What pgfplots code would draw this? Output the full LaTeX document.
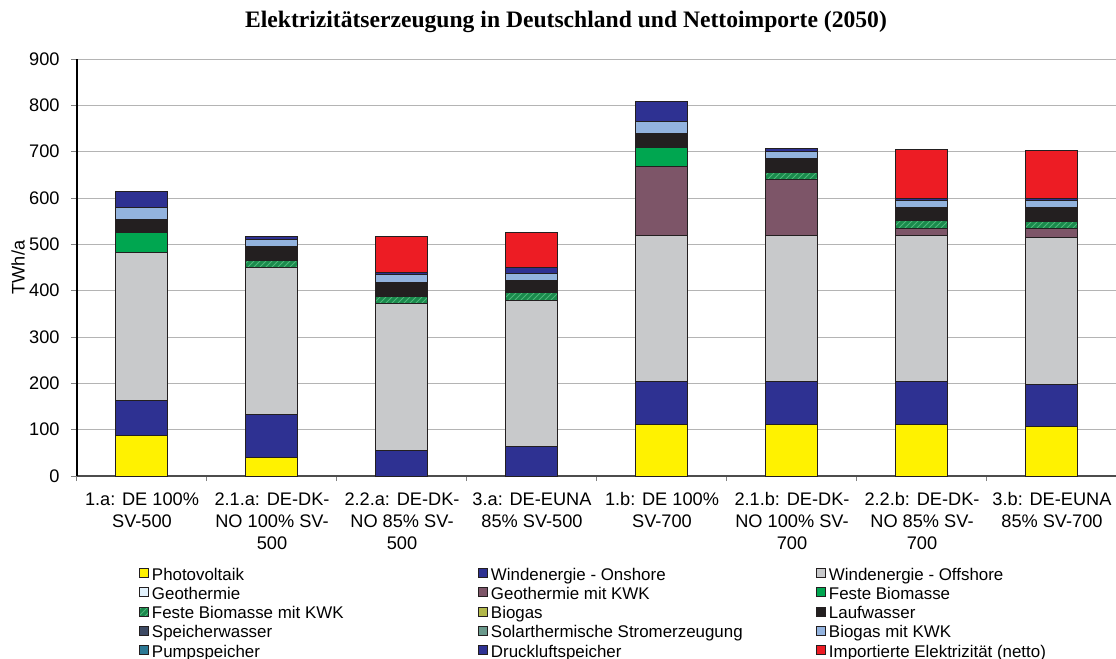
\documentclass[border=0pt]{standalone}
\usepackage{fontspec}
\setmainfont{Liberation Sans}
\newfontfamily\titlefont{Liberation Serif}
\usepackage{pgfplots}
\pgfplotsset{compat=1.18}
\usetikzlibrary{patterns}
\definecolor{cpv}{HTML}{FFF200}
\definecolor{consh}{HTML}{2E3192}
\definecolor{coffs}{HTML}{C8C9CB}
\definecolor{cgeo}{HTML}{E2F1FC}
\definecolor{cgeokwk}{HTML}{7D5568}
\definecolor{cfb}{HTML}{00A650}
\definecolor{cfbkwk}{HTML}{1A8A4C}
\definecolor{cfbhatch}{HTML}{4DB57A}
\definecolor{cbiogas}{HTML}{B2B84A}
\definecolor{clauf}{HTML}{231F20}
\definecolor{cspeich}{HTML}{3D4A64}
\definecolor{csolar}{HTML}{6A998C}
\definecolor{cbgkwk}{HTML}{93B3DE}
\definecolor{cpump}{HTML}{2C7894}
\definecolor{cdruck}{HTML}{2E3192}
\definecolor{cimport}{HTML}{ED1C24}
\definecolor{cedge}{HTML}{231F20}
\definecolor{cgrid}{HTML}{B4B4B4}

\pgfplotstableread{
x pv onsh offs geo geokwk fb fbkwk biogas lauf speich solar bgkwk pump druck import
0 87  77 318 0 0   43 0  0 29 0 0 26 0 34 0
1 41  91 317 0 0   0  16 0 30 0 0 15 0 7  0
2 0   56 317 0 0   0  15 0 30 0 0 16 0 6  78
3 0   63 316 0 0   0  17 0 26 0 0 16 0 12 76
4 112 91 317 0 147 43 0  0 30 0 0 25 0 43 0
5 112 91 317 0 119 0  15 0 31 0 0 16 0 5  0
6 112 92 316 0 15  0  16 0 29 0 0 15 0 5  104
7 106 92 317 0 19  0  15 0 31 0 0 15 0 4  103
}\datatable

\begin{document}
\begin{tikzpicture}
\useasboundingbox (-38.5pt,-91.5pt) rectangle (519.5pt,238pt);
\begin{axis}[
  at={(0,0)}, anchor=south west,
  scale only axis, width=520pt, height=208.5pt,
  ybar stacked, bar width=26pt,
  xmin=-0.5, xmax=7.5, ymin=0, ymax=900,
  enlargelimits=false,
  axis x line*=bottom, axis y line*=left,
  x axis line style={draw=black!70, line width=0.6pt},
  y axis line style={draw=black, line width=0.6pt},
  xtick={0,...,7},
  xticklabels={{1.a: DE 100\%\\SV-500},{2.1.a: DE-DK-\\NO 100\% SV-\\500},{2.2.a: DE-DK-\\NO 85\% SV-\\500},{3.a: DE-EUNA\\85\% SV-500},{1.b: DE 100\%\\SV-700},{2.1.b: DE-DK-\\NO 100\% SV-\\700},{2.2.b: DE-DK-\\NO 85\% SV-\\700},{3.b: DE-EUNA\\85\% SV-700}},
  minor xtick={-0.5,0.5,...,7.5},
  x tick style={draw=none},
  minor x tick style={draw=black!50, line width=0.5pt},
  minor tick length=2.5pt,
  ytick={0,100,...,900},
  y tick style={draw=black!50, line width=0.5pt},
  major tick length=3pt,
  tick align=outside,
  ymajorgrids, grid style={draw=cgrid, line width=0.5pt},
  /pgf/number format/assume math mode=true,
  x tick label style={font=\fontsize{9.1}{11}\selectfont, align=center, anchor=north, inner sep=0pt, yshift=-5pt},
  y tick label style={font=\fontsize{9.1}{11}\selectfont, anchor=east, inner sep=0pt, xshift=-5.5pt},
  ylabel={TWh/a},
  ylabel style={font=\fontsize{9.1}{11}\selectfont, at={(axis description cs:-0.0567,0.5)}, anchor=center, rotate=0},
  title={\titlefont\bfseries Elektrizitätserzeugung in Deutschland und Nettoimporte (2050)},
  title style={font=\fontsize{11.8}{14}\selectfont, at={(axis description cs:0.4702,1)}, anchor=center, yshift=12.5pt},
  every axis plot/.append style={draw=cedge, line width=0.5pt},
  legend columns=3,
  legend cell align=left,
  legend image code/.code={\draw[#1, draw=cedge, line width=0.5pt] (0.25pt,-0.75pt) rectangle (4.75pt,3.75pt);},
  legend style={at={(axis description cs:0.0596,-0.2168)}, anchor=north west, draw=none, fill=none, inner sep=0pt, outer sep=0pt,
    font=\fontsize{8.45}{10}\selectfont, row sep=0pt,
    nodes={inner sep=0pt, text height=6.8pt, text depth=2.825pt},
    /tikz/every odd column/.append style={column sep=1.5pt},
    /tikz/every even column/.append style={column sep=0pt}},
]
\addplot[fill=cpv] table[x=x,y=pv]{\datatable};
\addlegendentry{\makebox[163pt][l]{Photovoltaik}}
\addplot[fill=consh] table[x=x,y=onsh]{\datatable};
\addlegendentry{\makebox[162.5pt][l]{Windenergie - Onshore}}
\addplot[fill=coffs] table[x=x,y=offs]{\datatable};
\addlegendentry{Windenergie - Offshore}
\addplot[fill=cgeo, draw=none] table[x=x,y=geo]{\datatable};
\addlegendentry{\makebox[163pt][l]{Geothermie}}
\addplot[fill=cgeokwk] table[x=x,y=geokwk]{\datatable};
\addlegendentry{\makebox[162.5pt][l]{Geothermie mit KWK}}
\addplot[fill=cfb] table[x=x,y=fb]{\datatable};
\addlegendentry{Feste Biomasse}
\addplot[fill=cfbkwk, postaction={pattern=north east lines, pattern color=cfbhatch}] table[x=x,y=fbkwk]{\datatable};
\addlegendentry{\makebox[163pt][l]{Feste Biomasse mit KWK}}
\addplot[fill=cbiogas, draw=none] table[x=x,y=biogas]{\datatable};
\addlegendentry{\makebox[162.5pt][l]{Biogas}}
\addplot[fill=clauf] table[x=x,y=lauf]{\datatable};
\addlegendentry{Laufwasser}
\addplot[fill=cspeich, draw=none] table[x=x,y=speich]{\datatable};
\addlegendentry{\makebox[163pt][l]{Speicherwasser}}
\addplot[fill=csolar, draw=none] table[x=x,y=solar]{\datatable};
\addlegendentry{\makebox[162.5pt][l]{Solarthermische Stromerzeugung}}
\addplot[fill=cbgkwk] table[x=x,y=bgkwk]{\datatable};
\addlegendentry{Biogas mit KWK}
\addplot[fill=cpump, draw=none] table[x=x,y=pump]{\datatable};
\addlegendentry{\makebox[163pt][l]{Pumpspeicher}}
\addplot[fill=cdruck] table[x=x,y=druck]{\datatable};
\addlegendentry{\makebox[162.5pt][l]{Druckluftspeicher}}
\addplot[fill=cimport] table[x=x,y=import]{\datatable};
\addlegendentry{Importierte Elektrizität (netto)}
\end{axis}
\end{tikzpicture}
\end{document}
